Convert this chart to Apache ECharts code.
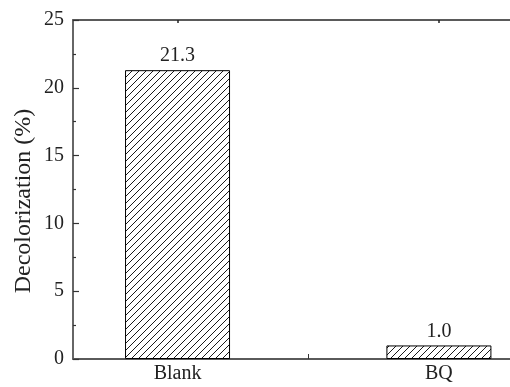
<!DOCTYPE html>
<html>
<head>
<meta charset="utf-8">
<script src="https://cdn.jsdelivr.net/npm/echarts@6/dist/echarts.min.js"></script>
<style>html,body{margin:0;padding:0;background:#fff;}#c{width:510px;height:387px;}</style>
</head>
<body>
<div id="c"></div>
<script>
const categories = ['Blank', 'BQ'];
const positions = [1, 2];
const values = [21.3, 1.0];
const yTicks = [0, 5, 10, 15, 20, 25];
const yTitle = 'Decolorization (%)';

function hatch() {
  const s = 7;
  const c = document.createElement('canvas');
  c.width = s; c.height = s;
  const g = c.getContext('2d');
  g.fillStyle = '#fff'; g.fillRect(0, 0, s, s);
  g.strokeStyle = '#000'; g.lineWidth = 0.9;
  g.beginPath();
  g.moveTo(-1, s + 1); g.lineTo(s + 1, -1);
  g.moveTo(-1, 1); g.lineTo(1, -1);
  g.moveTo(s - 1, s + 1); g.lineTo(s + 1, s - 1);
  g.stroke();
  return c;
}

const font = 'Liberation Serif';
const chart = echarts.init(document.getElementById('c'), null, {renderer: 'canvas'});
const labelMap = {};
positions.forEach((p, i) => labelMap[p] = categories[i]);
const xMin = 0.6, xMax = 2.272;

chart.setOption({
  animation: false,
  backgroundColor: '#fff',
  grid: {left: 73, top: 20, bottom: 28, right: 0, containLabel: false},
  xAxis: [{
    type: 'value', min: xMin, max: xMax, position: 'bottom',
    axisLine: {show: true, onZero: false, lineStyle: {color: '#5a5a5a', width: 2}},
    axisTick: {show: true, inside: true, length: 5, customValues: [1, 1.5, 2], lineStyle: {color: '#333', width: 1}},
    axisLabel: {customValues: positions, formatter: v => labelMap[v] || '', fontFamily: font, fontSize: 20, color: '#222', margin: 5},
    splitLine: {show: false}
  }, {
    type: 'value', min: xMin, max: xMax, position: 'top',
    axisLine: {show: true, onZero: false, lineStyle: {color: '#5a5a5a', width: 2}},
    axisTick: {show: true, inside: true, length: 3, customValues: positions, lineStyle: {color: '#222', width: 1.5}},
    axisLabel: {show: false},
    splitLine: {show: false}
  }],
  yAxis: {
    type: 'value', min: 0, max: 25, interval: 5,
    axisLine: {show: true, lineStyle: {color: '#333', width: 1.5}},
    axisTick: {show: true, inside: true, length: 6, lineStyle: {color: '#333', width: 1.2}},
    minorTick: {show: true, splitNumber: 2, length: 3, lineStyle: {color: '#333', width: 1.2}},
    axisLabel: {fontFamily: font, fontSize: 20, color: '#222', margin: 9, customValues: yTicks},
    splitLine: {show: false}
  },
  graphic: [{
    type: 'text', x: 24, y: 201, rotation: Math.PI / 2,
    style: {text: yTitle, font: '24px "Liberation Serif"', fill: '#222', align: 'center', verticalAlign: 'middle'}
  }],
  series: [{
    type: 'bar', xAxisIndex: 0,
    data: positions.map((p, i) => [p, values[i]]),
    barWidth: 105,
    itemStyle: {color: {image: hatch(), repeat: 'repeat'}, borderColor: '#000', borderWidth: 1},
    label: {show: true, position: 'top', distance: 4, formatter: p => p.value[1].toFixed(1), fontFamily: font, fontSize: 20, color: '#222'},
    z: 1
  }]
});
</script>
</body>
</html>
